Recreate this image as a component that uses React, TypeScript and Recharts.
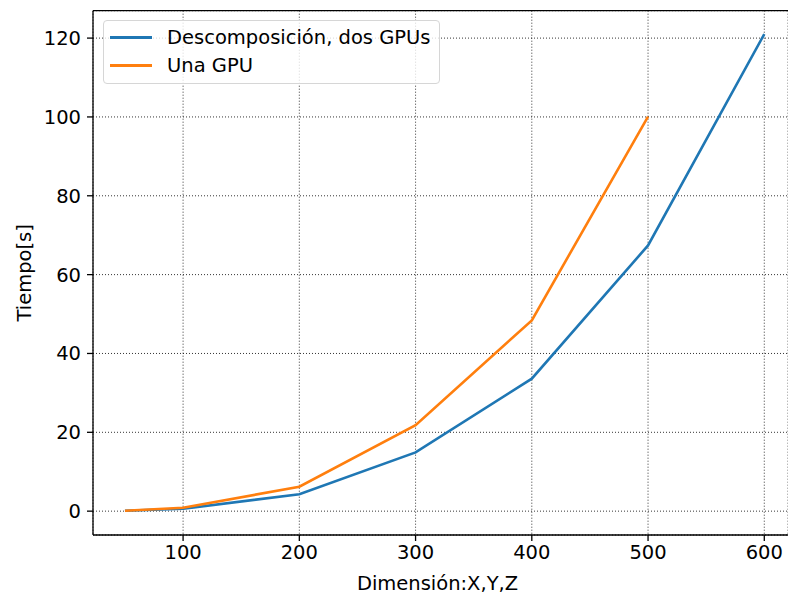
import { LineChart, Line, XAxis, YAxis, CartesianGrid, ReferenceLine } from "recharts";

const dims = [50, 100, 200, 300, 400, 500, 600];
const dosGpus = [0.1, 0.6, 4.3, 14.9, 33.6, 67.4, 121.0];
const unaGpu = [0.1, 0.85, 6.2, 21.8, 48.4, 100.1, null];
const xTicks = [100, 200, 300, 400, 500, 600];
const yTicks = [0, 20, 40, 60, 80, 100, 120];

const data = dims.map((d, i) => ({ dim: d, dos: dosGpus[i], una: unaGpu[i] }));

const FONT = "'DejaVu Sans', sans-serif";
const FS = 19.5;
const BLUE = "#1f77b4";
const ORANGE = "#ff7f0e";
const Y_MAX = 126.95;

const legendItems = [
  { name: "Descomposición, dos GPUs", color: BLUE },
  { name: "Una GPU", color: ORANGE },
];

function LegendBox() {
  return (
    <div
      style={{
        position: "absolute",
        left: 103,
        top: 20,
        border: "1.3px solid #d6d6d6",
        borderRadius: 4,
        background: "rgba(255,255,255,0.8)",
        padding: "2.5px 8px 3.9px 6px",
        fontFamily: FONT,
        fontSize: FS,
        color: "#000",
        whiteSpace: "nowrap",
      }}
    >
      {legendItems.map((it) => (
        <div key={it.name} style={{ display: "flex", alignItems: "center", height: 28 }}>
          <span style={{ width: 42, height: 3, background: it.color, marginRight: 15 }} />
          {it.name}
        </div>
      ))}
    </div>
  );
}

export default function App() {
  return (
    <div style={{ position: "absolute", left: 0, top: 0, width: 788, height: 597, background: "#fff", overflow: "hidden" }}>
      <LineChart
        width={788}
        height={597}
        data={data}
        margin={{ top: 10.7, right: 0, bottom: 32, left: 33 }}
      >
        <CartesianGrid stroke="#000" strokeDasharray="1 2" strokeWidth={0.8} />
        <XAxis
          dataKey="dim"
          type="number"
          domain={[22.5, 620.4]}
          ticks={xTicks}
          allowDataOverflow
          height={30}
          stroke="#000"
          strokeWidth={1.3}
          tickSize={6}
          tickMargin={4}
          tick={{ fontFamily: FONT, fontSize: FS, fill: "#000" }}
          label={{ value: "Dimensión:X,Y,Z", position: "insideBottom", offset: -25, dx: -3, style: { fontFamily: FONT, fontSize: FS, fill: "#000" } }}
        />
        <YAxis
          type="number"
          domain={[-6.05, Y_MAX]}
          ticks={yTicks}
          allowDataOverflow
          width={60}
          stroke="#000"
          strokeWidth={1.3}
          tickSize={6}
          tickMargin={6}
          tick={{ fontFamily: FONT, fontSize: FS, fill: "#000" }}
          label={{ value: "Tiempo[s]", angle: -90, position: "insideLeft", offset: -9, style: { textAnchor: "middle", fontFamily: FONT, fontSize: FS, fill: "#000" } }}
        />
        <ReferenceLine y={Y_MAX} stroke="#000" strokeWidth={1.3} ifOverflow="visible" />
        <Line type="linear" dataKey="dos" stroke={BLUE} strokeWidth={2.6} dot={false} isAnimationActive={false} />
        <Line type="linear" dataKey="una" stroke={ORANGE} strokeWidth={2.6} dot={false} isAnimationActive={false} />
      </LineChart>
      <LegendBox />
    </div>
  );
}
